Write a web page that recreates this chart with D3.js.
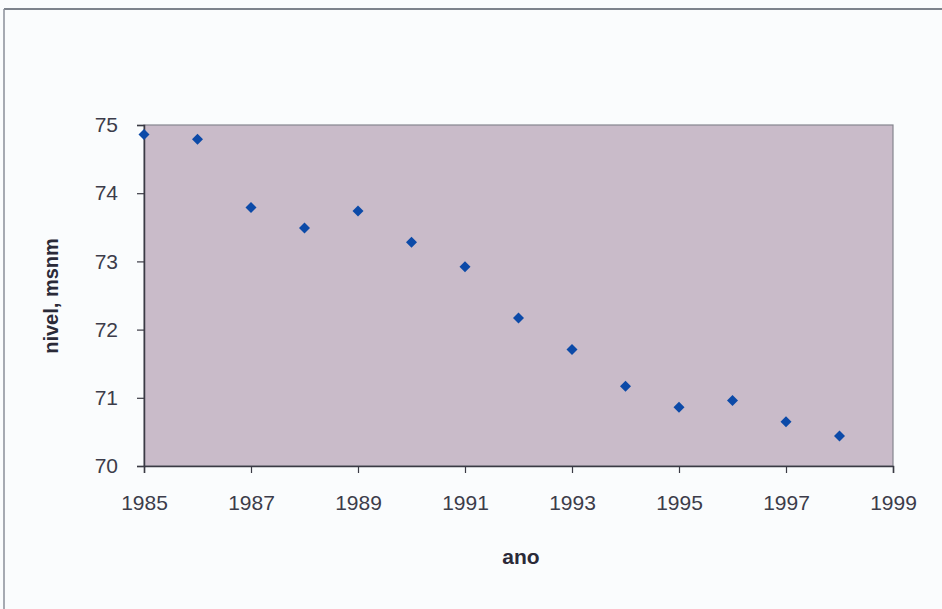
<!DOCTYPE html>
<html><head><meta charset="utf-8">
<script src="https://cdn.jsdelivr.net/npm/d3@7"></script>
<style>body{margin:0;background:#fafcfd;}svg{display:block;}</style>
</head><body>
<svg id="c" width="942" height="609"></svg>
<script>
const years = [1985,1986,1987,1988,1989,1990,1991,1992,1993,1994,1995,1996,1997,1998];
const nivel = [74.86,74.79,73.79,73.49,73.74,73.28,72.92,72.17,71.71,71.17,70.86,70.96,70.65,70.44];
const xTicks = [1985,1987,1989,1991,1993,1995,1997,1999];
const yTicks = [70,71,72,73,74,75];

const svg = d3.select("#c");
const L=144, R=893, T=125, B=466;
const x = d3.scaleLinear().domain([1985,1999]).range([L,R]);
const y = d3.scaleLinear().domain([70,75]).range([B,T]);

// outer frame (top and left edges visible)
svg.append("rect").attr("x",0).attr("y",0).attr("width",942).attr("height",609).attr("fill","#fafcfd");
svg.append("line").attr("x1",4).attr("x2",942).attr("y1",9).attr("y2",9).attr("stroke","#7d838c").attr("stroke-width",2);
svg.append("line").attr("x1",4).attr("x2",4).attr("y1",9).attr("y2",609).attr("stroke","#8a8f98").attr("stroke-width",1.5);

svg.append("rect").attr("x",L).attr("y",T).attr("width",R-L).attr("height",B-T)
  .attr("fill","#c9bbc9").attr("stroke","#85858f").attr("stroke-width",1.2);

const font = "'Liberation Sans', Arial, sans-serif";
const xa = svg.append("g").attr("transform",`translate(0,${B})`)
  .call(d3.axisBottom(x).tickValues(xTicks).tickFormat(d3.format("d")).tickSize(7).tickPadding(22));
const ya = svg.append("g").attr("transform",`translate(${L},0)`)
  .call(d3.axisLeft(y).tickValues(yTicks).tickFormat(d3.format("d")).tickSize(7).tickPadding(19));
[xa,ya].forEach(g=>{
  g.select(".domain").attr("stroke","#3a3a44").attr("stroke-width",1.5);
  g.selectAll(".tick line").attr("stroke","#3a3a44").attr("stroke-width",1.2);
  g.selectAll(".tick text").attr("fill","#3c3c4a").style("font-family",font).style("font-size","21px");
});

svg.append("g").selectAll("path").data(years).join("path")
  .attr("transform",(d,i)=>`translate(${x(d)},${y(nivel[i])})`)
  .attr("d","M0,-5.5L5.5,0L0,5.5L-5.5,0Z")
  .attr("fill","#0c4aa8");

svg.append("text").attr("x",521).attr("y",564).attr("text-anchor","middle")
  .style("font-family",font).style("font-size","21px").style("font-weight","bold").attr("fill","#2a2a38").text("ano");
svg.append("text").attr("transform","translate(58,296) rotate(-90)").attr("text-anchor","middle")
  .style("font-family",font).style("font-size","20px").style("font-weight","bold").attr("fill","#2a2a38").text("nivel, msnm");
</script>
</body></html>
